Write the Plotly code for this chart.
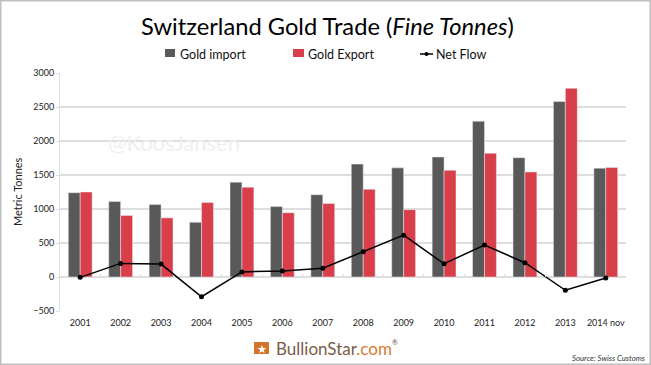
import plotly.graph_objects as go

years = ["2001","2002","2003","2004","2005","2006","2007","2008","2009","2010","2011","2012","2013","2014 nov"]
gold_import = [1240,1110,1065,805,1395,1035,1210,1660,1605,1765,2290,1755,2580,1600]
gold_export = [1250,905,870,1095,1320,945,1080,1290,990,1570,1820,1545,2775,1610]
net_flow = [-5,200,190,-290,75,90,130,370,615,195,470,210,-195,-15]

FONT = "Lato"
W, H = 651, 365
L, R, T, B = 60, 25, 73, 54
GRID = "#DEDEDE"
XRANGE = [-0.5, 13.5]

fig = go.Figure()
fig.add_bar(x=years, y=gold_import, name="Gold import", marker_color="#595959")
fig.add_bar(x=years, y=gold_export, name="Gold Export", marker_color="#D83F4A")
fig.add_scatter(x=years, y=net_flow, name="Net Flow", mode="lines+markers",
                line=dict(color="#000000", width=1.5), marker=dict(color="#000000", size=5))
# carries the tick marks on the zero line
fig.add_scatter(x=years, y=net_flow, xaxis="x2", mode="markers", marker=dict(opacity=0), hoverinfo="skip")

fig.update_layout(
    width=W, height=H, autosize=False,
    margin=dict(l=L, r=R, t=T, b=B),
    paper_bgcolor="white", plot_bgcolor="white",
    barmode="group", bargap=0.41, bargroupgap=0,
    font=dict(family=FONT, color="#222222"),
    showlegend=False,
    xaxis=dict(type="category", range=XRANGE, tickfont=dict(size=9, color="#222222"), ticks="outside", ticklen=3,
               tickcolor="rgba(0,0,0,0)", showline=False, showgrid=False, zeroline=False),
    xaxis2=dict(type="category", range=XRANGE, overlaying="x", anchor="free", position=500/3500, side="bottom",
                showticklabels=False, ticks="inside", ticklen=3, tickcolor=GRID, tickson="boundaries",
                showgrid=False, zeroline=False, showline=False),
    yaxis=dict(range=[-500,3000], dtick=500, tickfont=dict(size=9, color="#222222"),
               gridcolor=GRID, gridwidth=1.5, zeroline=True, zerolinecolor=GRID,
               zerolinewidth=1.5, showline=True, linecolor=GRID, ticks="outside", ticklen=3, tickcolor=GRID),
)

def px(xp): return (xp-L)/(W-L-R)
def py(yp): return 1-(yp-T)/(H-T-B)

def note(text, x, y, size, color="#000000", anchor="center", **kw):
    fig.add_annotation(text=text, xref="paper", yref="paper", x=px(x), y=py(y), showarrow=False,
                       font=dict(size=size, color=color, family=FONT),
                       xanchor=anchor, yanchor="middle", **kw)

note("Switzerland Gold Trade (<i>Fine Tonnes</i>)", 327, 26, 23.7)
note("Gold import", 178, 54, 12.5, anchor="left", color="#111111")
note("Gold Export", 306, 54, 12.5, anchor="left", color="#111111")
note("Net Flow", 434, 54, 12.5, anchor="left", color="#111111")
note("Metric Tonnes", 17, 192, 11, textangle=-90, color="#222222")
note("@KoosJansen", 174, 142, 22, color="#EFEFEF")
note("BullionStar<span style='color:#D9782D'>.com</span>", 274, 348, 17, color="#7A5C48", anchor="left")
note("®", 390, 342, 7, color="#6B4A35", anchor="left")
note("★", 262, 348, 11, color="white")
note("<i>Source: Swiss Customs</i>", 647, 358, 7.8, color="#333333", anchor="right")

def box(x0, y0, x1, y1, color):
    fig.add_shape(type="rect", xref="paper", yref="paper", x0=px(x0), x1=px(x1), y0=py(y0), y1=py(y1),
                  fillcolor=color, line=dict(width=0), layer="below")

box(165, 49, 175, 57, "#595959")
box(293, 49, 304, 57, "#D83F4A")
box(254, 342, 269, 354, "#D2752A")
fig.add_shape(type="line", xref="paper", yref="paper", x0=px(420), x1=px(433), y0=py(54), y1=py(54),
              line=dict(color="#000000", width=1.5))
fig.add_shape(type="circle", xref="paper", yref="paper", x0=px(424.5), x1=px(428.5), y0=py(52), y1=py(56),
              fillcolor="#000000", line=dict(width=0))
fig.add_shape(type="rect", xref="paper", yref="paper", x0=px(0.75), x1=px(650.25), y0=py(0.75), y1=py(364.25),
              line=dict(color="#BFBFBF", width=1.5), fillcolor="rgba(0,0,0,0)")

fig.write_html("out.html", config=dict(displayModeBar=False),
               post_script="document.body.style.margin='0';document.body.style.overflow='hidden';")
